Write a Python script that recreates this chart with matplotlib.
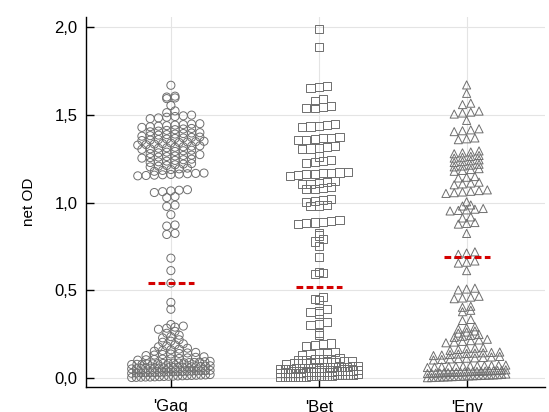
import numpy as np
import matplotlib
matplotlib.use("Agg")
import matplotlib.pyplot as plt

plt.rcParams['font.family'] = ['Liberation Sans', 'DejaVu Sans']

categories = ["'Gag", "'Bet", "'Env"]
markers = ['o', 's', '^']
medians = [0.54, 0.52, 0.69]

# Gag values (net OD)
gag = [0.003, 0.004, 0.005, 0.006, 0.006, 0.007, 0.008, 0.009, 0.010, 0.011, 0.012, 0.013, 0.014, 0.015, 0.016, 0.017, 0.018, 0.020,
       0.027, 0.028, 0.029, 0.030, 0.031, 0.031, 0.032, 0.033, 0.034, 0.035, 0.036, 0.037, 0.038, 0.039, 0.040, 0.041, 0.042, 0.044,
       0.052, 0.053, 0.054, 0.055, 0.056, 0.056, 0.057, 0.058, 0.059, 0.060, 0.061, 0.062, 0.063, 0.064, 0.065, 0.066, 0.068, 0.070,
       0.077, 0.078, 0.079, 0.080, 0.081, 0.082, 0.083, 0.084, 0.085, 0.086, 0.087, 0.088, 0.089, 0.091, 0.093, 0.095,
       0.102, 0.104, 0.106, 0.108, 0.110, 0.112, 0.115, 0.118, 0.121,
       0.128, 0.131, 0.134, 0.137, 0.140, 0.143, 0.146,
       0.153, 0.157, 0.161, 0.165, 0.170,
       0.178, 0.183, 0.189, 0.195,
       0.204, 0.210, 0.218,
       0.229, 0.236, 0.244,
       0.255, 0.266,
       0.278, 0.284, 0.290, 0.296,
       0.305, 0.392, 0.431, 0.541, 0.612, 0.683, 0.818, 0.824, 0.866, 0.872, 0.931, 0.978, 0.985, 1.028, 1.034,
       1.057, 1.062, 1.066, 1.070, 1.073,
       1.152, 1.154, 1.156, 1.158, 1.160, 1.162, 1.164, 1.166, 1.168,
       1.178, 1.183, 1.188, 1.192, 1.196,
       1.203, 1.207, 1.211, 1.215, 1.219, 1.222,
       1.228, 1.232, 1.236, 1.240, 1.244, 1.247,
       1.253, 1.256, 1.259, 1.262, 1.265, 1.268, 1.270, 1.273,
       1.279, 1.283, 1.287, 1.291, 1.295, 1.298,
       1.303, 1.306, 1.309, 1.312, 1.315, 1.318, 1.321, 1.323,
       1.327, 1.330, 1.333, 1.336, 1.339, 1.342, 1.345, 1.347, 1.349,
       1.353, 1.356, 1.359, 1.362, 1.365, 1.368, 1.371, 1.373,
       1.378, 1.381, 1.384, 1.387, 1.390, 1.393, 1.396, 1.398,
       1.403, 1.407, 1.411, 1.415, 1.419, 1.422,
       1.428, 1.432, 1.435, 1.438, 1.441, 1.444, 1.447, 1.449,
       1.478, 1.482, 1.486, 1.490, 1.494, 1.498,
       1.512, 1.522, 1.553,
       1.592, 1.596, 1.601, 1.606, 1.668]

# Bet values
bet = [0.004, 0.005, 0.006, 0.007, 0.008, 0.009, 0.010, 0.011, 0.012, 0.013, 0.014, 0.015, 0.016, 0.018, 0.020, 0.022,
       0.027, 0.028, 0.029, 0.030, 0.031, 0.032, 0.033, 0.034, 0.035, 0.036, 0.037, 0.038, 0.039, 0.041, 0.043, 0.046,
       0.052, 0.053, 0.054, 0.055, 0.056, 0.057, 0.058, 0.059, 0.060, 0.061, 0.062, 0.063, 0.065, 0.067, 0.070,
       0.082, 0.084, 0.086, 0.088, 0.090, 0.091, 0.093, 0.095, 0.097,
       0.102, 0.104, 0.106, 0.108, 0.111, 0.114,
       0.132, 0.136, 0.140, 0.144, 0.147,
       0.182, 0.187, 0.192, 0.197,
       0.244, 0.256,
       0.302, 0.310, 0.318,
       0.368, 0.376, 0.384, 0.392,
       0.445, 0.452, 0.460,
       0.592, 0.598, 0.604, 0.688,
       0.752, 0.778, 0.790, 0.812, 0.828,
       0.878, 0.882, 0.886, 0.890, 0.894, 0.898,
       0.978, 0.983, 0.988,
       1.003, 1.008, 1.013, 1.018,
       1.076, 1.079, 1.083, 1.088,
       1.103, 1.108, 1.112, 1.117, 1.121,
       1.152, 1.156, 1.160, 1.163, 1.166, 1.169, 1.171, 1.174,
       1.227, 1.232, 1.238, 1.244, 1.262,
       1.303, 1.308, 1.313, 1.318, 1.322,
       1.354, 1.358, 1.362, 1.366, 1.370, 1.373,
       1.428, 1.433, 1.438, 1.443, 1.448,
       1.536, 1.540, 1.544, 1.548,
       1.578, 1.588,
       1.652, 1.658, 1.664,
       1.888, 1.989]

# Env values
env = [0.002, 0.003, 0.004, 0.005, 0.006, 0.007, 0.008, 0.009, 0.010, 0.011, 0.012, 0.013, 0.014, 0.015, 0.016, 0.017, 0.018, 0.019, 0.021, 0.023,
       0.026, 0.027, 0.028, 0.029, 0.030, 0.031, 0.032, 0.033, 0.034, 0.035, 0.036, 0.037, 0.038, 0.039, 0.040, 0.041, 0.042, 0.043, 0.045, 0.047,
       0.060, 0.062, 0.064, 0.065, 0.066, 0.067, 0.068, 0.069, 0.070, 0.071, 0.072, 0.074,
       0.103, 0.106, 0.109, 0.111, 0.113, 0.115, 0.117, 0.120, 0.123,
       0.128, 0.131, 0.134, 0.137, 0.140, 0.142, 0.144, 0.146, 0.148,
       0.158, 0.163, 0.167, 0.170, 0.173,
       0.201, 0.205, 0.209, 0.213, 0.217, 0.221,
       0.232, 0.238, 0.243, 0.248,
       0.256, 0.262, 0.268,
       0.279, 0.285, 0.292,
       0.328, 0.334, 0.378, 0.386, 0.403, 0.409,
       0.452, 0.456, 0.461, 0.466,
       0.502, 0.507, 0.512,
       0.612, 0.655, 0.660, 0.667, 0.705, 0.712, 0.719, 0.824,
       0.877, 0.881, 0.886, 0.912, 0.918,
       0.952, 0.955, 0.958, 0.962, 0.966,
       0.980, 0.986, 1.004,
       1.052, 1.056, 1.060, 1.064, 1.068, 1.072,
       1.101, 1.106, 1.111, 1.116,
       1.140, 1.144, 1.148,
       1.178, 1.183, 1.188, 1.193,
       1.203, 1.208, 1.213, 1.218,
       1.228, 1.233, 1.238, 1.243,
       1.253, 1.258, 1.263, 1.268,
       1.278, 1.283, 1.288, 1.294,
       1.358, 1.363, 1.368,
       1.404, 1.409, 1.414, 1.420,
       1.468,
       1.504, 1.510, 1.515, 1.521,
       1.558, 1.566, 1.622, 1.670]

groups = [gag, bet, env]


def dot_offsets(values, step=0.056, width=0.53, binh=0.025):
    # rows of points per value bin, sorted left to right, squeezed if too wide
    vals = np.asarray(values, dtype=float)
    bins = np.floor(vals / binh + 1e-9).astype(int)
    xs = np.zeros(len(vals))
    for b in np.unique(bins):
        idx = np.where(bins == b)[0]
        idx = idx[np.argsort(vals[idx])]
        n = len(idx)
        sp = step if n < 2 else min(step, width / (n - 1))
        xs[idx] = (np.arange(n) - (n - 1) / 2) * sp
    return xs


fig = plt.figure(figsize=(5.49, 4.12), dpi=100)
ax = fig.add_axes([86 / 549, 25 / 412, 459 / 549, 370 / 412])

for i, vals in enumerate(groups):
    xs = i + dot_offsets(vals)
    ax.scatter(xs, vals, marker=markers[i], s=34, facecolors='none',
               edgecolors='#6e6e6e', linewidths=0.7, zorder=3)
    ax.plot([i - 0.155, i + 0.155], [medians[i], medians[i]], color='#d40000',
            lw=2.2, dashes=(2.2, 1.1), zorder=4)

ax.set_xlim(-0.574, 2.53)
ax.set_ylim(-0.051, 2.057)
ax.set_xticks(range(len(categories)))
ax.set_xticklabels(categories)
ax.set_yticks([0, 0.5, 1.0, 1.5, 2.0])
ax.set_yticklabels(['0,0', '0,5', '1,0', '1,5', '2,0'])
ax.set_ylabel('net OD', fontsize=11, labelpad=13)
ax.grid(True, color='#e4e4e4', lw=0.8, zorder=0)
ax.set_axisbelow(True)
ax.tick_params(direction='in', length=6, width=1, labelsize=12)
ax.tick_params(axis='y', pad=6)
ax.tick_params(axis='x', pad=9)
for side in ['top', 'right']:
    ax.spines[side].set_visible(False)
for side in ['left', 'bottom']:
    ax.spines[side].set_linewidth(1.0)

fig.savefig('out.png', dpi=100)
